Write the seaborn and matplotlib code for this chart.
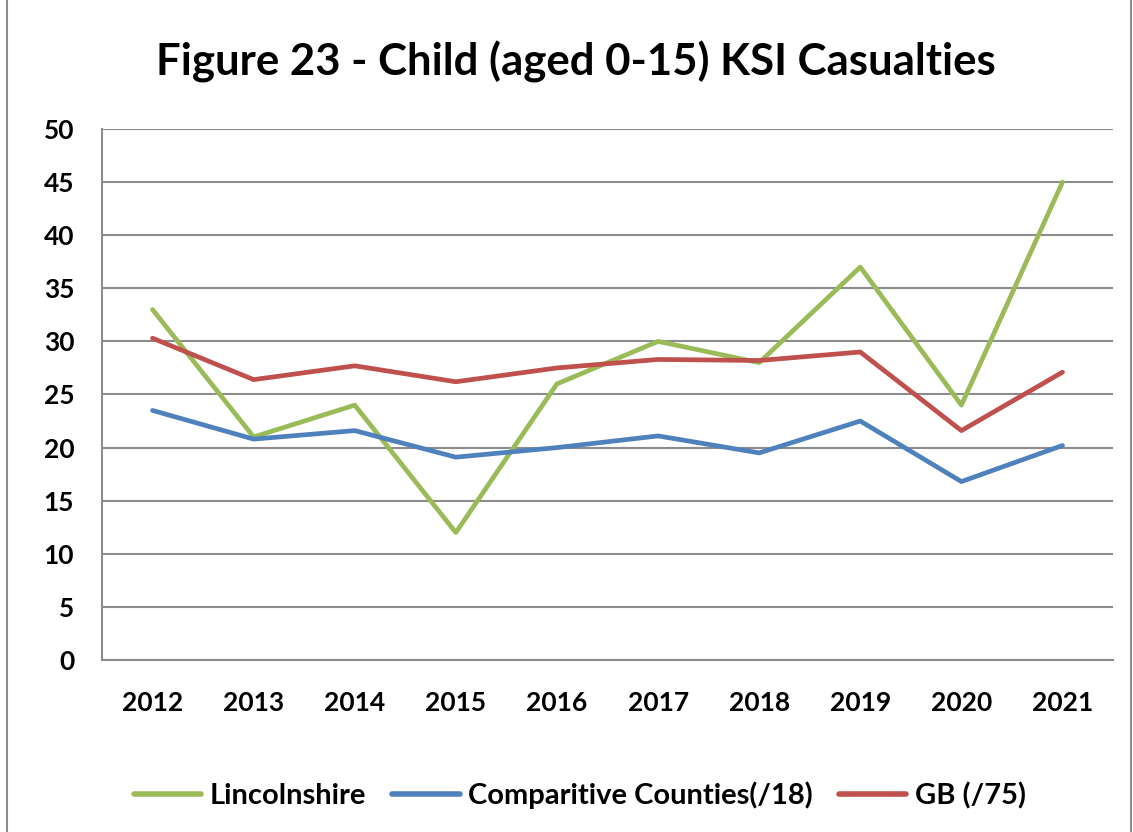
import pandas as pd
import matplotlib.pyplot as plt
import seaborn as sns
from matplotlib.patches import Rectangle

# ----------------------------
# Data
# ----------------------------
years = ["2012", "2013", "2014", "2015", "2016", "2017", "2018", "2019", "2020", "2021"]
lincolnshire = [33, 21, 24, 12, 26, 30, 28, 37, 24, 45]
comparative = [23.5, 20.8, 21.6, 19.1, 20.0, 21.1, 19.5, 22.5, 16.8, 20.2]
gb = [30.3, 26.4, 27.7, 26.2, 27.5, 28.3, 28.2, 29.0, 21.6, 27.1]

series_names = ["Lincolnshire", "Comparitive Counties(/18)", "GB (/75)"]
colors = {"Lincolnshire": "#9BBB59",
          "Comparitive Counties(/18)": "#4F81BD",
          "GB (/75)": "#C0504D"}

df = pd.DataFrame({"Year": years * 3,
                   "x": list(range(len(years))) * 3,
                   "Value": lincolnshire + comparative + gb,
                   "Series": [s for s in series_names for _ in years]})

# ----------------------------
# Plot
# ----------------------------
sns.set_style("white")
plt.rcParams["font.family"] = ["Lato", "DejaVu Sans"]
plt.rcParams["text.color"] = "black"
plt.rcParams["xtick.labelcolor"] = "black"
plt.rcParams["ytick.labelcolor"] = "black"

fig = plt.figure(figsize=(11.33, 8.32), dpi=100)
ax = fig.add_axes([0.0900, 0.2067, 0.8924, 0.6383])

sns.lineplot(data=df, x="x", y="Value", hue="Series", palette=colors,
             hue_order=series_names, linewidth=3.4, ax=ax, legend=False)

ax.set_xlim(-0.5, len(years) - 0.5)
ax.set_ylim(0, 50)
ax.set_yticks(range(0, 51, 5))
ax.set_xticks(range(len(years)))
ax.set_xticklabels(years)
ax.set_xticks([i - 0.5 for i in range(len(years) + 1)], minor=True)
ax.tick_params(axis="x", which="major", length=0, pad=22, labelsize=19, labelcolor="black")
ax.tick_params(axis="x", which="minor", length=8, color="#8c8c8c", width=1.5)
ax.tick_params(axis="y", length=8, color="#8c8c8c", width=1.5, labelsize=19, pad=12,
               labelcolor="black")
for lab in ax.get_xticklabels() + ax.get_yticklabels():
    lab.set_fontweight("bold")

ax.grid(axis="y", color="#8c8c8c", linewidth=1.5)
ax.set_axisbelow(True)
for side in ["top", "right"]:
    ax.spines[side].set_visible(False)
for side in ["left", "bottom"]:
    ax.spines[side].set_color("#8c8c8c")
    ax.spines[side].set_linewidth(1.5)
ax.set_xlabel("")
ax.set_ylabel("")

fig.text(0.508, 0.925, "Figure 23 - Child (aged 0-15) KSI Casualties",
         ha="center", va="center", fontsize=31.5, fontweight="bold", color="black")

handles = [plt.Line2D([], [], color=colors[s], linewidth=4, solid_capstyle="round")
           for s in series_names]
fig.legend(handles, series_names, loc="center", bbox_to_anchor=(0.512, 0.044),
           ncol=3, frameon=False, prop={"size": 21, "weight": "bold"},
           handlelength=2.3, columnspacing=0.9, handletextpad=0.3)

fig.patches.append(Rectangle((0.006, -0.01), 0.992, 1.02, transform=fig.transFigure,
                             fill=False, edgecolor="#8c8c8c", linewidth=1.5))

plt.savefig("out.png", dpi=100)
